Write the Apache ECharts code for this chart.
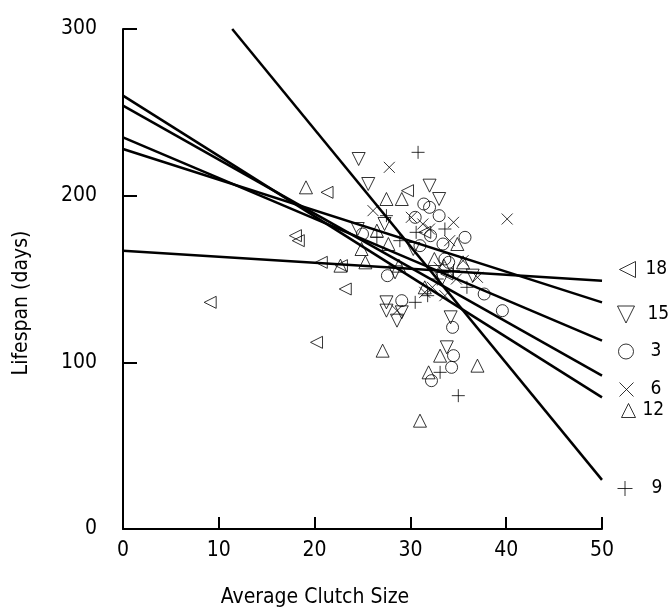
<!DOCTYPE html>
<html>
<head>
<meta charset="utf-8">
<script src="https://cdn.jsdelivr.net/npm/echarts@6/dist/echarts.min.js"></script>
<style>
    html, body { margin: 0; padding: 0; background: #fff; }
    #chart { width: 672px; height: 614px; }
</style>
</head>
<body>
<div id="chart"></div>
<script>
    // [average clutch size, lifespan in days] for each group
    var g18 = [[9.1,136],[18.0,176],[18.3,173],[20.2,112],[20.7,160],[21.3,202],[22.8,158],[23.2,144],[29.7,203],[31.5,178],[33.8,153]];
    var g15 = [[24.6,222],[25.6,207],[32.0,206],[33.0,198],[27.3,183],[24.5,180],[28.4,154],[27.5,136],[27.5,131],[28.6,125],[29.1,130],[33.8,109],[34.2,127],[30.3,168],[33.3,150],[36.5,152]];
    var g3 = [[25.0,177],[27.6,152],[29.1,137],[30.5,187],[31.4,195],[32.0,193],[33.0,188],[32.1,176],[33.4,171],[35.7,175],[34.5,104],[34.4,121],[32.2,89],[34.3,97],[37.7,141],[39.6,131],[31.0,170],[34.0,160],[33.6,162]];
    var g6 = [[27.8,217],[26.1,191],[30.1,187],[31.3,183],[32.0,180],[34.5,184],[40.1,186],[34.1,173],[32.3,145],[33.0,157],[34.8,150],[31.5,142],[28.6,131],[35.5,161],[37.0,151],[33.6,140]];
    var g12 = [[19.1,205],[26.5,179],[27.5,198],[29.1,198],[27.7,171],[25.3,160],[22.7,158],[24.9,168],[27.1,107],[31.0,65],[33.1,104],[31.9,94],[37.0,98],[32.5,162],[34.9,171],[33.5,158],[35.5,160],[28.8,158],[31.5,145]];
    var g9 = [[30.8,226],[27.5,188],[26.5,175],[28.9,173],[30.6,178],[33.6,180],[30.5,136],[33.1,94],[35.0,80],[32.8,150],[34.5,155],[31.8,140],[35.9,145]];

    // fitted lines, end points
    var fit18 = [[0,167],[50,149]];
    var fit15 = [[0,228],[50,136]];
    var fit3 = [[0,235],[50,113]];
    var fit6 = [[0,254],[50,92]];
    var fit12 = [[0,260],[50,79]];
    var fit9 = [[11.4,300],[50,29.5]];

    var FONT = '"DejaVu Sans Condensed", "DejaVu Sans", sans-serif';
    var LEFT_TRI = 'path://M0,5L10,0L10,10Z';
    var DOWN_TRI = 'path://M0,0L10,0L5,10Z';
    var UP_TRI = 'path://M5,0L10,10L0,10Z';
    var CROSS = 'path://M0,0L10,10M10,0L0,10';
    var PLUS = 'path://M5,0L5,10M0,5L10,5';

    function dots( name, data, symbol, size ) {
        return {
            name: name,
            type: 'scatter',
            data: data,
            symbol: symbol,
            symbolSize: size,
            itemStyle: {
                color: 'transparent',
                borderColor: '#000',
                borderWidth: 1
            },
            z: 2
        };
    }

    function fitLine( data ) {
        return {
            type: 'line',
            data: data,
            symbol: 'none',
            silent: true,
            lineStyle: { color: '#000', width: 2.5 },
            z: 3
        };
    }

    // one legend box per group, the key is spaced unevenly in the original
    function legendAt( name, icon, left, top, size, gap ) {
        return {
            data: [ { name: name, icon: icon } ],
            left: left,
            top: top,
            padding: 0,
            itemWidth: size,
            itemHeight: size,
            selectedMode: false,
            itemStyle: { color: 'transparent', borderColor: '#000', borderWidth: 1 },
            textStyle: {
                fontSize: 19,
                fontFamily: FONT,
                color: '#000',
                padding: [ 0, 0, 0, gap ]
            }
        };
    }

    var myChart = echarts.init( document.getElementById( 'chart' ) ),
        option = {
            animation: false,
            backgroundColor: '#fff',
            grid: {
                left: 123,
                right: 70,
                top: 29,
                bottom: 85
            },
            legend: [
                legendAt( '18', LEFT_TRI, 619, 260, 16, 5 ),
                legendAt( '15', DOWN_TRI, 617, 305, 17, 8 ),
                legendAt( '3', 'circle', 618, 342, 15, 12 ),
                legendAt( '6', CROSS, 619, 380, 14, 12 ),
                legendAt( '12', UP_TRI, 621, 401, 14, 2 ),
                legendAt( '9', PLUS, 617, 479, 15, 14 )
            ],
            xAxis: {
                type: 'value',
                min: 0,
                max: 50,
                interval: 10,
                splitLine: { show: false },
                axisLine: { lineStyle: { color: '#000', width: 2 } },
                axisTick: { inside: true, length: 12, lineStyle: { color: '#000', width: 2 } },
                axisLabel: { fontSize: 21, fontFamily: FONT, color: '#000', margin: 11 }
            },
            yAxis: {
                type: 'value',
                min: 0,
                max: 300,
                interval: 100,
                splitLine: { show: false },
                axisLine: { lineStyle: { color: '#000', width: 2 } },
                axisTick: { inside: true, length: 14, lineStyle: { color: '#000', width: 2 } },
                axisLabel: { fontSize: 21, fontFamily: FONT, color: '#000', margin: 26 }
            },
            graphic: [
                {
                    type: 'text',
                    x: 315,
                    y: 598,
                    style: {
                        text: 'Average Clutch Size',
                        fontSize: 21,
                        fontFamily: FONT,
                        fill: '#000',
                        textAlign: 'center',
                        textVerticalAlign: 'middle'
                    }
                },
                {
                    type: 'text',
                    x: 22,
                    y: 303,
                    rotation: Math.PI / 2,
                    style: {
                        text: 'Lifespan (days)',
                        fontSize: 21,
                        fontFamily: FONT,
                        fill: '#000',
                        textAlign: 'center',
                        textVerticalAlign: 'middle'
                    }
                }
            ],
            series: [
                dots( '18', g18, LEFT_TRI, 12 ),
                dots( '15', g15, DOWN_TRI, 13 ),
                dots( '3', g3, 'circle', 12 ),
                dots( '6', g6, CROSS, 11 ),
                dots( '12', g12, UP_TRI, 13 ),
                dots( '9', g9, PLUS, 13 ),
                fitLine( fit18 ),
                fitLine( fit15 ),
                fitLine( fit3 ),
                fitLine( fit6 ),
                fitLine( fit12 ),
                fitLine( fit9 )
            ]
        };

    myChart.setOption( option );
</script>
</body>
</html>
